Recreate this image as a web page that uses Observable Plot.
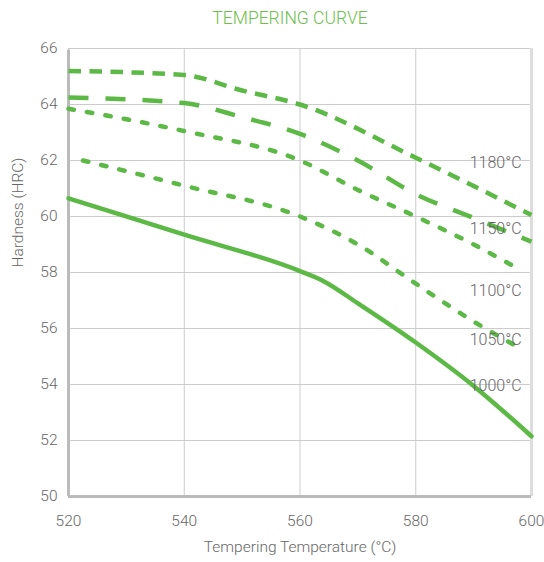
<!DOCTYPE html>
<html><head><meta charset="utf-8">
<script src="https://cdn.jsdelivr.net/npm/d3@7"></script>
<script src="https://cdn.jsdelivr.net/npm/@observablehq/plot@0.6"></script>
<style>
body{margin:0;background:#fff;font-family:Roboto,sans-serif;}
#title{height:36px;line-height:36px;text-align:center;color:#6cc04a;font-size:17.5px;font-weight:300;width:544px;padding-left:36px;box-sizing:border-box;}
</style></head><body>
<div id="title">TEMPERING CURVE</div>
<div id="chart"></div>
<script>
// Tick values
const xTicks = [520, 540, 560, 580, 600];
const yTicks = [50, 52, 54, 56, 58, 60, 62, 64, 66];

// Series (temperature °C -> hardness HRC)
const t1180 = [520, 540, 550, 560, 580, 600];
const h1180 = [65.2, 65.05, 64.5, 64.0, 62.1, 60.05];
const t1150 = [520, 540, 550, 560, 570, 580, 590, 600];
const h1150 = [64.25, 64.05, 63.55, 62.95, 62.0, 60.8, 59.95, 59.1];
const t1100 = [520, 540, 560, 570, 580, 590, 598];
const h1100 = [63.85, 63.05, 62.0, 60.95, 60.0, 59.0, 58.1];
const t1050 = [522.5, 540, 560, 570, 580, 590, 598];
const h1050 = [62.0, 61.1, 60.0, 59.0, 57.6, 56.25, 55.3];
const t1000 = [520, 540, 560, 564, 570, 580, 590, 600];
const h1000 = [60.65, 59.35, 58.05, 57.7, 56.9, 55.5, 53.95, 52.15];

// Series labels
const seriesNames = ["1180°C", "1150°C", "1100°C", "1050°C", "1000°C"];
const labelX = [598.3, 598.3, 598.3, 598.3, 598.3];
const labelY = [61.9, 59.55, 57.35, 55.6, 53.95];

const green = "#5cb946";
const toRows = (t, h) => t.map((x, i) => ({x, y: h[i]}));

const series = [
  {rows: toRows(t1180, h1180), dash: "12.5,8.5", cap: "butt"},
  {rows: toRows(t1150, h1150), dash: "20,17", cap: "butt"},
  {rows: toRows(t1100, h1100), dash: "5.5,13.2", cap: "round"},
  {rows: toRows(t1050, h1050), dash: "5.5,13.2", cap: "round"},
  {rows: toRows(t1000, h1000), dash: null, cap: "round"}
];
const labels = seriesNames.map((n, i) => ({n, x: labelX[i], y: labelY[i]}));

const chart = Plot.plot({
  width: 544, height: 526,
  marginLeft: 68, marginRight: 13, marginTop: 12, marginBottom: 66,
  style: {fontFamily: "Roboto, sans-serif", fontSize: "15px", fontWeight: 300, color: "#666", background: "#fff"},
  x: {domain: [520, 600], label: null},
  y: {domain: [50, 66], label: null},
  marks: [
    Plot.gridX(xTicks, {stroke: "#cccccc", strokeOpacity: 1}),
    Plot.gridY(yTicks, {stroke: "#cccccc", strokeOpacity: 1}),
    Plot.ruleX([600], {stroke: "#dddddd", strokeWidth: 3}),
    Plot.ruleX([520], {stroke: "#bbbbbb", strokeWidth: 3, y1: 50, y2: 66, insetBottom: -1.5}),
    Plot.ruleY([50], {stroke: "#bbbbbb", strokeWidth: 3}),
    Plot.axisX(xTicks, {tickSize: 0, tickPadding: 18, fill: "#666", fontSize: 15.5, fontWeight: 300, label: null}),
    Plot.axisY(yTicks, {tickSize: 0, tickPadding: 11, fill: "#666", fontSize: 15.5, fontWeight: 300, label: null}),
    ...series.map(s => Plot.line(s.rows, {
      x: "x", y: "y", stroke: green, strokeWidth: 4.5,
      strokeDasharray: s.dash, strokeLinecap: s.cap, curve: "monotone-x"
    })),
    Plot.text(labels, {x: "x", y: "y", text: "n", textAnchor: "end", fill: "#666", fontSize: 16, fontWeight: 300}),
    Plot.text(["Hardness (HRC)"], {frameAnchor: "left", dx: -50, dy: -5, rotate: -90, fill: "#666", fontSize: 15.5, fontWeight: 300}),
    Plot.text(["Tempering Temperature (°C)"], {frameAnchor: "bottom", dy: 55, fill: "#666", fontSize: 15.5, fontWeight: 300})
  ]
});
document.getElementById("chart").appendChild(chart);
</script>
</body></html>
